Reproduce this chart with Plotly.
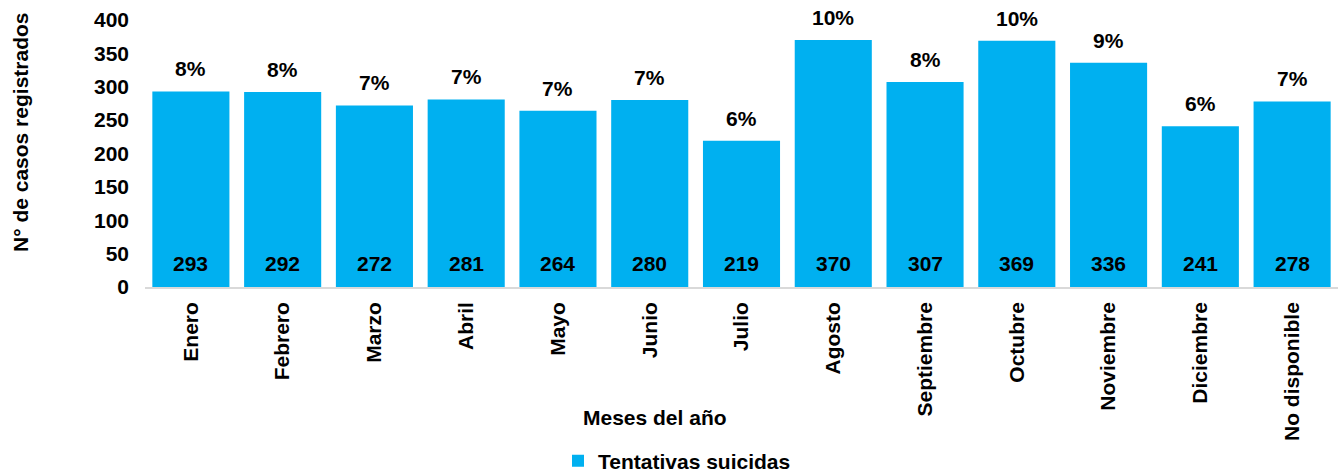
import plotly.graph_objects as go

months = ["Enero", "Febrero", "Marzo", "Abril", "Mayo", "Junio", "Julio",
          "Agosto", "Septiembre", "Octubre", "Noviembre", "Diciembre", "No disponible"]
casos = [293, 292, 272, 281, 264, 280, 219, 370, 307, 369, 336, 241, 278]
porcentajes = ["8%", "8%", "7%", "7%", "7%", "7%", "6%", "10%", "8%", "10%", "9%", "6%", "7%"]
y_ticks = [0, 50, 100, 150, 200, 250, 300, 350, 400]

FONT = "Liberation Sans"
BOLD = dict(family=FONT, size=21, color="#000000")

fig = go.Figure()
fig.add_trace(go.Bar(
    x=months, y=casos, name="<b>Tentativas suicidas</b>",
    marker=dict(color="#00B0F0", line=dict(width=0)),
    showlegend=True,
))

annotations = []
for m, v, p in zip(months, casos, porcentajes):
    annotations.append(dict(x=m, y=v, text=f"<b>{p}</b>", showarrow=False,
                            yanchor="bottom", yshift=9, font=BOLD))
    annotations.append(dict(x=m, y=0, text=f"<b>{v}</b>", showarrow=False,
                            yanchor="bottom", yshift=10, font=BOLD))

annotations.append(dict(xref="paper", yref="paper", x=(655 - 145) / 1193, y=(287 - 417) / 267,
                        text="<b>Meses del año</b>", showarrow=False,
                        xanchor="center", yanchor="middle", font=BOLD))
annotations.append(dict(xref="paper", yref="paper", x=(20 - 145) / 1193, y=(287 - 132) / 267,
                        text="<b>N° de casos registrados</b>", showarrow=False, textangle=-90,
                        xanchor="center", yanchor="middle", font=BOLD))

fig.update_layout(
    width=1338, height=472,
    margin=dict(l=145, r=0, t=20, b=185, autoexpand=False),
    paper_bgcolor="white", plot_bgcolor="white",
    bargap=0.16,
    font=BOLD,
    annotations=annotations,
    legend=dict(orientation="h", x=(558 - 145) / 1193, xanchor="left",
                y=(287 - 461) / 267, yanchor="middle",
                font=BOLD, bgcolor="rgba(0,0,0,0)"),
    xaxis=dict(
        showline=True, linecolor="#D9D9D9", linewidth=1.5, automargin=False,
        tickangle=-90, tickfont=BOLD, ticks="", ticklabelstandoff=5,
        tickvals=months, ticktext=[f"<b>{m}</b>" for m in months],
        showgrid=False, zeroline=False,
    ),
    yaxis=dict(
        range=[0, 400], tickvals=y_ticks, ticktext=[f"<b>{t}</b>" for t in y_ticks],
        tickfont=BOLD, ticks="", ticklabelstandoff=15, automargin=False,
        showgrid=False, zeroline=False, showline=False,
    ),
)

fig.write_html("out.html")
